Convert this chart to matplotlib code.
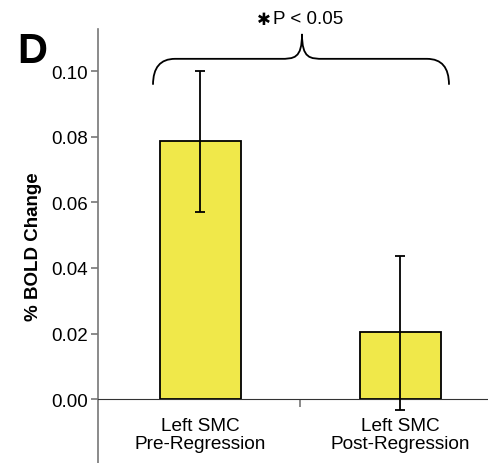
import matplotlib.pyplot as plt
from matplotlib.path import Path
from matplotlib.patches import PathPatch

plt.rcParams['font.family'] = ['Liberation Sans', 'DejaVu Sans']

# data
groups = ["Left SMC\nPre-Regression", "Left SMC\nPost-Regression"]
means = [0.0786, 0.0204]
err_low = [0.0571, -0.0032]
err_high = [0.1000, 0.0437]

fig = plt.figure(figsize=(4.88, 4.64), dpi=100)
ax = fig.add_axes([98 / 488, 0, 390 / 488, 434 / 464])

xs = list(range(len(groups)))
ax.bar(xs, means, width=0.405, color='#F0E84A', edgecolor='black', linewidth=1.3, zorder=2)
yerr = [[m - lo for m, lo in zip(means, err_low)], [hi - m for m, hi in zip(means, err_high)]]
ax.errorbar(xs, means, yerr=yerr, fmt='none', ecolor='black', elinewidth=1.3,
            capsize=3.5, capthick=1.3, zorder=3)

ax.set_xlim(-0.51, 1.44)
ax.set_ylim(-0.0195, 0.1129)

ax.spines['top'].set_visible(False)
ax.spines['right'].set_visible(False)
ax.spines['bottom'].set_position(('data', 0))
ax.spines['bottom'].set_color('#333333')
ax.spines['left'].set_color('#777777')
ax.spines['left'].set_linewidth(1.2)

ax.set_xticks([0.5])
ax.set_xticklabels([''])
ax.tick_params(axis='x', direction='out', length=6, color='#777777', width=1.2)
ax.set_yticks([0, 0.02, 0.04, 0.06, 0.08, 0.10])
ax.set_yticklabels(['%.2f' % v for v in [0, 0.02, 0.04, 0.06, 0.08, 0.10]], fontsize=13.5)
ax.tick_params(axis='y', direction='out', length=5, color='#777777', width=1.2, pad=2)

for x, g in zip(xs, groups):
    ax.text(x, -0.0055, g, ha='center', va='top', fontsize=13.7, linespacing=1.1)

ax.set_ylabel('% BOLD Change', fontsize=13.5, fontweight='bold', labelpad=7)

# significance brace
x0, x1, xm = -0.235, 1.245, 0.51
yh, ye, yp = 0.1038, 0.0959, 0.1114
dx = 0.11
verts = [(x0, ye), (x0, yh), (x0 + dx, yh),
         (xm - dx, yh),
         (xm - 0.04, yh), (xm, yh), (xm, yp),
         (xm, yh), (xm + 0.04, yh), (xm + dx, yh),
         (x1 - dx, yh),
         (x1, yh), (x1, ye)]
codes = [Path.MOVETO, Path.CURVE3, Path.CURVE3,
         Path.LINETO,
         Path.CURVE4, Path.CURVE4, Path.CURVE4,
         Path.CURVE4, Path.CURVE4, Path.CURVE4,
         Path.LINETO,
         Path.CURVE3, Path.CURVE3]
ax.add_patch(PathPatch(Path(verts, codes), fill=False, lw=1.3, color='black', clip_on=False))
ax.text(0.365, 0.116, 'P < 0.05', ha='left', va='center', fontsize=13.5, clip_on=False)
ax.text(0.355, 0.1158, '\u2731', ha='right', va='center', fontsize=12,
        family='DejaVu Sans', clip_on=False)

fig.text(17 / 488, 1 - 63 / 464, 'D', fontsize=30, fontweight='bold', ha='left', va='baseline')

fig.savefig('out.png', dpi=100)
